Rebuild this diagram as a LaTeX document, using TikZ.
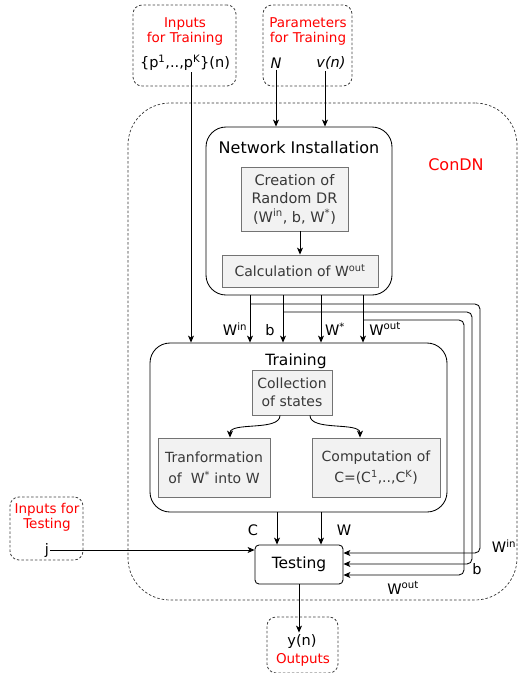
\documentclass[tikz,border=0pt]{standalone}
\usepackage{fontspec}
\setmainfont{DejaVu Sans}
\usetikzlibrary{shapes,arrows,arrows.meta,positioning,shadows}
\tikzstyle{dbox} = [draw, black!75, dash pattern=on 2.5pt off 2pt, rounded corners=9pt, inner sep=0pt]
\tikzstyle{bigbox} = [draw, rounded corners=20pt, inner sep=0pt]
\tikzstyle{gbox} = [draw=black!55, fill=black!5, text=black!78, align=center, inner sep=0pt,
  drop shadow={shadow xshift=1.3pt, shadow yshift=-1.3pt, fill=black!35, opacity=1}]
\tikzstyle{txt} = [inner sep=1pt, font=\fontsize{14.5}{17}\selectfont, align=center]
\tikzstyle{red} = [txt, text=red, font=\fontsize{13.5}{16}\selectfont]
\tikzstyle{line} = [draw]
\tikzstyle{arr} = [draw, -{Stealth[length=7pt, width=6pt, inset=2pt]}]

\begin{document}
\begin{tikzpicture}[x=1pt, y=-1pt, line width=0.85pt]
			\useasboundingbox (0,0) rectangle (518,673);
			% outer boxes
			\node [draw, dash pattern=on 2.5pt off 2pt, black!80, line width=0.7pt, rounded corners=42pt, minimum width=389pt, minimum height=497pt] (condn) at (322.5,351.5) {};
			\node [red, font=\fontsize{16}{18}\selectfont] (condnl) at (456,165) {ConDN};
			\node [dbox, minimum width=103pt, minimum height=81pt] (itr) at (184.5,45.5) {};
			\node [dbox, minimum width=89pt, minimum height=81pt] (ptr) at (307.5,45.5) {};
			\node [dbox, minimum width=73pt, minimum height=63pt] (ite) at (46.5,528.5) {};
			\node [dbox, minimum width=71pt, minimum height=56pt] (out) at (302.5,645) {};
			% texts of the input boxes
			\node [red] (itrl) at (185,31) {Inputs\\[-1pt]for Training};
			\node [txt] (pin) at (185,63) {\{p\textsuperscript{1},..,p\textsuperscript{K}\}(n)};
			\node [red] (ptrl) at (308,31) {Parameters\\[-1pt]for Training};
			\node [txt] (N) at (276,63) {\textit{N}};
			\node [txt] (vn) at (331,63) {\textit{v(n)}};
			\node [red] (itel) at (47,517) {Inputs for\\[-1pt]Testing};
			\node [txt] (j) at (47,550) {j};
			\node [txt] (yn) at (302,641) {y(n)};
			\node [red] (outl) at (303,660) {Outputs};
			% network installation
			\node [bigbox, minimum width=186pt, minimum height=168pt] (ni) at (299,211) {};
			\node [txt, font=\fontsize{16}{19}\selectfont] (nil) at (299,148) {Network Installation};
			\node [gbox, minimum width=107pt, minimum height=64pt, font=\fontsize{14.5}{18.5}\selectfont] (cr) at (294.5,199) {Creation of\\Random DR\\(W\textsuperscript{in}, b, W\textsuperscript{*})};
			\node [gbox, minimum width=156pt, minimum height=32pt, font=\fontsize{14}{16}\selectfont] (ca) at (300,271) {Calculation of W\textsuperscript{out}};
			% training
			\node [bigbox, minimum width=297pt, minimum height=169pt] (tr) at (298.5,427.5) {};
			\node [txt, font=\fontsize{15.5}{18}\selectfont] (trl) at (296,361) {Training};
			\node [gbox, minimum width=80pt, minimum height=45pt, font=\fontsize{14}{18}\selectfont] (co) at (292,392.5) {Collection\\of states};
			\node [gbox, minimum width=112pt, minimum height=59pt, font=\fontsize{14}{21}\selectfont] (tf) at (214,467.5) {Tranformation\\of~~W\textsuperscript{*} into W};
			\node [gbox, minimum width=128pt, minimum height=59pt, font=\fontsize{14}{21}\selectfont] (cm) at (376,467.5) {Computation of\\C=(C\textsuperscript{1},..,C\textsuperscript{K})};
			% testing
			\node [draw, rounded corners=4pt, minimum width=88pt, minimum height=39pt, font=\fontsize{15.5}{18}\selectfont] (te) at (299,564.5) {Testing};
			% labels of the connectors
			\node [txt] (lwin) at (235,329) {W\textsuperscript{in}};
			\node [txt] (lb) at (270,330) {b};
			\node [txt] (lws) at (335,329) {W\textsuperscript{*}};
			\node [txt] (lwout) at (385,329) {W\textsuperscript{out}};
			\node [txt] (lc) at (253,530) {C};
			\node [txt] (lw) at (344,530) {W};
			\node [txt] (rwin) at (504,546) {W\textsuperscript{in}};
			\node [txt] (rb) at (477,569) {b};
			\node [txt] (rwout) at (403,588) {W\textsuperscript{out}};
			% junctions
			\coordinate (jwin) at (250,304);
			\coordinate (jb) at (283,312);
			\coordinate (jwout) at (363,320);

			\path [arr] (pin.south -| 191,0) -- (tr.north -| 191,0);
			\path [arr] (N.south) -- (ni.north -| N.south);
			\path [arr] (vn.south -| 325,0) -- (ni.north -| 325,0);
			\path [arr] (cr.south -| ca.north) -- (ca.north);
			\path [arr] (ni.south -| jwin) -- (tr.north -| jwin);
			\path [arr] (ni.south -| jb) -- (tr.north -| jb);
			\path [arr] (ni.south -| 321,0) -- (tr.north -| 321,0);
			\path [arr] (ni.south -| jwout) -- (tr.north -| jwout);
			\path [arr, rounded corners=5pt] (jwin) -- (480,304) -- (480,553) -- (te.east |- 0,553);
			\path [arr, rounded corners=5pt] (jb) -- (472,312) -- (472,564) -- (te.east |- 0,564);
			\path [arr, rounded corners=5pt] (jwout) -- (464,320) -- (464,575) -- (te.east |- 0,575);
			\path [arr] (co.south -| 280,0) .. controls +(0,16) and +(0,-16) .. (tf.north -| 230,0);
			\path [arr] (co.south -| 310,0) .. controls +(0,16) and +(0,-16) .. (cm.north -| 360,0);
			\path [arr] (tr.south -| 277,0) -- (te.north -| 277,0);
			\path [arr] (tr.south -| 321,0) -- (te.north -| 321,0);
			\path [arr] (j.east) -- (te.west |- j.east);
			\path [arr] (te.south) -- (te.south |- yn.north);
		\end{tikzpicture}
\end{document}
